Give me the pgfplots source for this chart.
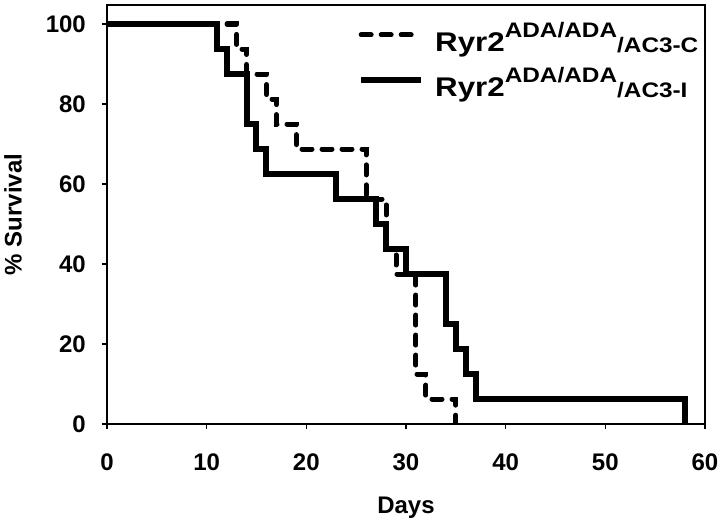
\documentclass[border=0pt]{standalone}
\usepackage{fontspec}
\setmainfont{Liberation Sans}
\newfontfamily\legfont{Liberation Sans}[FakeStretch=1.16]
\usepackage{pgfplots}
\pgfplotsset{compat=1.18}
\newcommand{\legtext}[1]{\legfont\bfseries\fontsize{27}{30}\selectfont Ryr2\raisebox{14pt}{\fontsize{21}{24}\selectfont ADA/ADA}\raisebox{-1pt}{\fontsize{21}{24}\selectfont /AC3-#1}}
\begin{document}
\begin{tikzpicture}
\begin{axis}[
  at={(0pt,0pt)}, anchor=south west,
  scale only axis, width=598pt, height=419pt,
  xmin=0, xmax=60, ymin=0, ymax=104.75,
  xtick={0,10,...,60}, ytick={0,20,...,100},
  tick align=outside, xtick pos=bottom, ytick pos=left,
  major tick length=5pt,
  every tick/.style={black, line width=1.5pt},
  axis line style={line width=2.5pt},
  font=\fontsize{24}{28}\selectfont\bfseries,
  /pgf/number format/assume math mode=true,
  xticklabel style={anchor=base, inner sep=0pt, yshift=-41pt},
  yticklabel style={anchor=east, inner sep=0pt, xshift=-16pt},
  xlabel={Days},
  ylabel={\% Survival},
  every axis x label/.style={at={(axis description cs:0.5,-0.2)}, anchor=center},
  every axis y label/.style={at={(axis description cs:-0.157,0.5)}, anchor=center, rotate=90},
  legend image code/.code={\draw[#1] (0pt,12pt) -- (60pt,12pt);},
  legend style={at={(axis description cs:0.4197,0.9363)}, anchor=north west,
    draw=none, fill=none, inner sep=0pt, row sep=15pt, column sep=11pt,
    nodes={inner sep=0pt, text height=20pt, text depth=10pt}},
  legend cell align=left,
]
\addplot[const plot, black, line width=5pt, line cap=round, dash pattern=on 10pt off 10pt]
coordinates {(0,100) (13,93.75) (14,87.5) (16,81.25) (17,75) (19,68.75) (26,56.25) (28,43.75) (29,37.5) (31,12.5) (32,6.25) (35,0)};
\addlegendentry{\legtext{C}}
\addplot[const plot, black, line width=6pt, line join=miter]
coordinates {(0,100) (11,93.75) (12,87.5) (14,75) (15,68.75) (16,62.5) (23,56.25) (27,50) (28,43.75) (30,37.5) (34,25) (35,18.75) (36,12.5) (37,6.25) (58,0)};
\addlegendentry{\legtext{I}}
\end{axis}
\path[use as bounding box] (-107pt,-99pt) rectangle (615pt,424pt);
\end{tikzpicture}
\end{document}
